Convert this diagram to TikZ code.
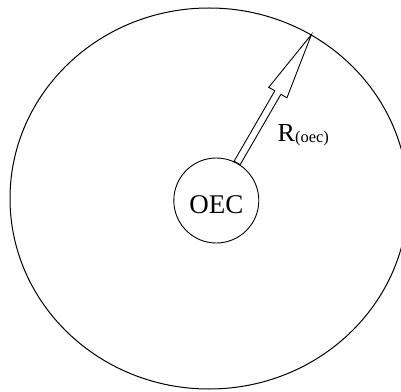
\documentclass[tikz,border=0pt]{standalone}
\usepackage{fontspec}
\setmainfont{Liberation Serif}
\usepackage{tikz}
\usetikzlibrary{calc, shapes.geometric}

\tikzset{
  rim/.style={draw, ellipse, line width=1pt, inner sep=0pt,
    minimum width=398pt, minimum height=381pt},
  core/.style={draw, circle, line width=0.9pt, inner sep=0pt, minimum size=85pt,
    font=\fontsize{27}{27}\selectfont, text height=26pt, text depth=0pt},
  arrowline/.style={draw, line width=0.9pt, line join=miter}
}

\begin{document}
\begin{tikzpicture}[x=1pt, y=1pt]
  \useasboundingbox (0,0) rectangle (401,391);
  % outer region and the OEC in it
  \node[rim] (outer) at (209,192.5) {};
  \node[core] (oec) at (216.3,190.5) {OEC};
  % hollow arrow from the OEC out to the rim
  \coordinate (tail) at (oec.61);
  \coordinate (tip) at (outer.58.5);
  \coordinate (hb) at ($(tip)!67pt!(tail)$);
  \draw[arrowline] ($(tail)!3.5pt!90:(tip)$) -- ($(hb)!3.5pt!-90:(tail)$)
    -- ($(hb)!10.5pt!-90:(tail)$) -- (tip) -- ($(hb)!10.5pt!90:(tail)$)
    -- ($(hb)!3.5pt!90:(tail)$) -- ($(tail)!3.5pt!-90:(tip)$) -- cycle;
  % radius label
  \node[anchor=base west, inner sep=0pt, font=\fontsize{26}{26}\selectfont] (rlabel)
    at (277.5,249) {R\raisebox{-1pt}{\fontsize{16.5}{16.5}\selectfont(oec)}};
\end{tikzpicture}
\end{document}
